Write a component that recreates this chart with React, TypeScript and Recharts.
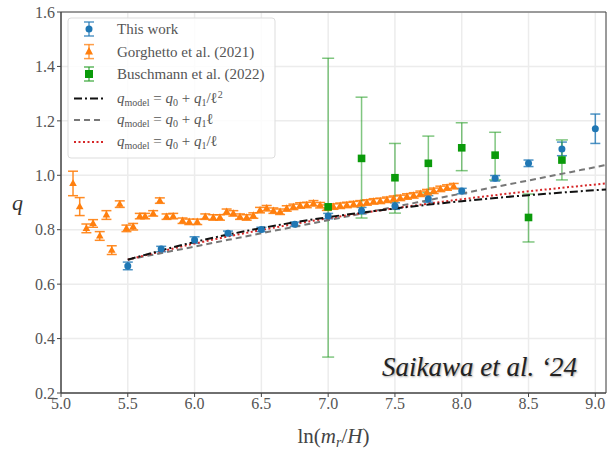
import React from 'react';
import {
  ComposedChart, Scatter, Line, XAxis, YAxis, CartesianGrid, ErrorBar, ReferenceArea,
} from 'recharts';

// This work (blue)
const thisX = [5.5, 5.75, 6.0, 6.25, 6.5, 6.75, 7.0, 7.25, 7.5, 7.75, 8.0, 8.25, 8.5, 8.75, 9.0];
const thisQ = [0.667, 0.729, 0.762, 0.787, 0.801, 0.82, 0.85, 0.87, 0.887, 0.913, 0.942, 0.989, 1.044, 1.097, 1.171];
const thisErr = [0.014, 0.01, 0.012, 0.008, 0.008, 0.008, 0.01, 0.012, 0.012, 0.012, 0.01, 0.01, 0.012, 0.025, 0.054];

// Gorghetto et al. (2021) (orange)
const gorX = [
  5.09, 5.14, 5.19, 5.24, 5.29, 5.34, 5.38, 5.44, 5.49, 5.54, 5.59, 5.63, 5.69, 5.74, 5.79, 5.84,
  5.91, 5.96, 6.02, 6.08, 6.14, 6.19, 6.24, 6.29, 6.34, 6.39, 6.44, 6.49, 6.54, 6.59, 6.64, 6.69,
  6.74, 6.79, 6.84, 6.89, 6.94, 6.99, 7.04, 7.09, 7.14, 7.19, 7.24, 7.29, 7.34, 7.39, 7.44, 7.49,
  7.54, 7.59, 7.64, 7.69, 7.74, 7.79, 7.84, 7.89, 7.94,
];
const gorQ = [
  0.97, 0.885, 0.805, 0.823, 0.777, 0.854, 0.725, 0.894, 0.805, 0.811, 0.85, 0.85, 0.86, 0.907, 0.848, 0.85,
  0.833, 0.829, 0.829, 0.848, 0.845, 0.845, 0.866, 0.86, 0.848, 0.845, 0.852, 0.872, 0.879, 0.87, 0.866, 0.878,
  0.884, 0.889, 0.891, 0.897, 0.89, 0.881, 0.885, 0.888, 0.891, 0.894, 0.897, 0.9, 0.904, 0.906, 0.91, 0.914,
  0.917, 0.922, 0.926, 0.932, 0.938, 0.943, 0.95, 0.955, 0.96,
];
const gorErr = [
  0.045, 0.033, 0.016, 0.014, 0.016, 0.016, 0.016, 0.012, 0.012, 0.012, 0.01, 0.01, 0.01, 0.01, 0.01, 0.01,
  0.01, 0.01, 0.01, 0.01, 0.01, 0.01, 0.01, 0.01, 0.01, 0.01, 0.01, 0.01, 0.01, 0.01, 0.01, 0.01,
  0.01, 0.01, 0.01, 0.01, 0.01, 0.01, 0.01, 0.01, 0.01, 0.01, 0.01, 0.01, 0.01, 0.01, 0.01, 0.01,
  0.01, 0.01, 0.01, 0.01, 0.01, 0.01, 0.01, 0.01, 0.01,
];

// Buschmann et al. (2022) (green), errors as [down, up]
const busX = [7.0, 7.25, 7.5, 7.75, 8.0, 8.25, 8.5, 8.75];
const busQ = [0.884, 1.062, 0.991, 1.044, 1.101, 1.074, 0.845, 1.056];
const busLo = [0.552, 0.219, 0.13, 0.108, 0.084, 0.091, 0.09, 0.073];
const busHi = [0.546, 0.225, 0.126, 0.1, 0.092, 0.084, 0.086, 0.074];

// model curves
const modelX = [5.5, 6.0, 6.5, 7.0, 7.5, 8.0, 8.5, 9.08];
const modelInvSq = [0.69, 0.755, 0.806, 0.846, 0.878, 0.905, 0.927, 0.948];
const modelLin = [0.69, 0.738, 0.787, 0.835, 0.884, 0.933, 0.981, 1.038];
const modelInv = [0.69, 0.749, 0.799, 0.842, 0.879, 0.912, 0.941, 0.97];

const xTicks = [5.0, 5.5, 6.0, 6.5, 7.0, 7.5, 8.0, 8.5, 9.0];
const yTicks = [0.2, 0.4, 0.6, 0.8, 1.0, 1.2, 1.4, 1.6];

const thisData = thisX.map((x, i) => ({ x, y: thisQ[i], err: thisErr[i] }));
const gorData = gorX.map((x, i) => ({ x, y: gorQ[i], err: gorErr[i] }));
const busData = busX.map((x, i) => ({ x, y: busQ[i], err: [busLo[i], busHi[i]] }));
const invSqData = modelX.map((x, i) => ({ x, y: modelInvSq[i] }));
const linData = modelX.map((x, i) => ({ x, y: modelLin[i] }));
const invData = modelX.map((x, i) => ({ x, y: modelInv[i] }));

const SERIF = 'Liberation Serif';
const BLUE = '#1f77b4';
const ORANGE = '#ff7f0e';
const GREEN = '#2ca02c';
const DKGREEN = '#0a9a0a';

const dotShape = (p: any) => <circle cx={p.cx} cy={p.cy} r={3.5} fill={BLUE} />;
const triShape = (p: any) => (
  <path d={`M${p.cx},${p.cy - 4.2} L${p.cx + 3.8},${p.cy + 2.6} L${p.cx - 3.8},${p.cy + 2.6} Z`} fill={ORANGE} />
);
const sqShape = (p: any) => <rect x={p.cx - 3.8} y={p.cy - 3.8} width={7.6} height={7.6} fill={DKGREEN} />;

const XLabel = (props: any) => {
  const vb = props.viewBox || {};
  const cx = vb.x + vb.width / 2;
  return (
    <text x={cx} y={443} textAnchor="middle" style={{ fontFamily: SERIF }} fontSize={21} fill="#444">
      <tspan>ln(</tspan>
      <tspan fontStyle="italic">m</tspan>
      <tspan fontStyle="italic" fontSize={14} dy={4}>r</tspan>
      <tspan dy={-4}>/</tspan>
      <tspan fontStyle="italic">H</tspan>
      <tspan>)</tspan>
    </text>
  );
};

const MathLabel = ({ y, tail }: { y: number; tail: 'sq' | 'lin' | 'inv' }) => (
  <text x={50} y={y + 4} style={{ fontFamily: SERIF }} fontSize={15} fill="#555">
    <tspan fontStyle="italic">q</tspan>
    <tspan fontSize={10} dy={3}>model</tspan>
    <tspan dy={-3}> = </tspan>
    <tspan fontStyle="italic">q</tspan>
    <tspan fontSize={10} dy={3}>0</tspan>
    <tspan dy={-3}> + </tspan>
    <tspan fontStyle="italic">q</tspan>
    <tspan fontSize={10} dy={3}>1</tspan>
    <tspan dy={-3}>{tail === 'lin' ? 'ℓ' : '/ℓ'}</tspan>
    {tail === 'sq' ? <tspan fontSize={10} dy={-5}>2</tspan> : null}
  </text>
);

const LegendBox = () => {
  const rows = [12, 34.6, 57, 81.5, 103, 125];
  const bar = (y: number, color: string) => (
    <g stroke={color} strokeWidth={1.5} strokeOpacity={0.75}>
      <line x1={22} x2={22} y1={y - 7} y2={y + 7} />
      <line x1={17} x2={27} y1={y - 7} y2={y - 7} />
      <line x1={17} x2={27} y1={y + 7} y2={y + 7} />
    </g>
  );
  return (
    <svg width={210} height={142} style={{ position: 'absolute', left: 67, top: 17 }}>
      <rect x={1} y={1} width={207} height={140} rx={3} fill="rgba(255,255,255,0.85)" stroke="#ddd" />
      {bar(rows[0], BLUE)}
      <circle cx={22} cy={rows[0]} r={3.5} fill={BLUE} />
      {bar(rows[1], ORANGE)}
      <path d={`M22,${rows[1] - 4.5} L26,${rows[1] + 3} L18,${rows[1] + 3} Z`} fill={ORANGE} />
      {bar(rows[2], GREEN)}
      <rect x={18} y={rows[2] - 4} width={8} height={8} fill={DKGREEN} />
      <line x1={7} x2={37} y1={rows[3]} y2={rows[3]} stroke="#111" strokeWidth={2} strokeDasharray="8 3 2 3" />
      <line x1={7} x2={37} y1={rows[4]} y2={rows[4]} stroke="#777" strokeWidth={2} strokeDasharray="6 4" />
      <line x1={7} x2={37} y1={rows[5]} y2={rows[5]} stroke="#d62728" strokeWidth={2} strokeDasharray="2 2.5" />
      <g style={{ fontFamily: SERIF }} fontSize={15} fill="#555">
        <text x={50} y={rows[0] + 5}>This work</text>
        <text x={50} y={rows[1] + 5}>Gorghetto et al. (2021)</text>
        <text x={50} y={rows[2] + 5}>Buschmann et al. (2022)</text>
      </g>
      <MathLabel y={rows[3]} tail="sq" />
      <MathLabel y={rows[4]} tail="lin" />
      <MathLabel y={rows[5]} tail="inv" />
    </svg>
  );
};

export default function App() {
  const tickStyle = { fontSize: 16, fill: '#555', style: { fontFamily: SERIF } };
  return (
    <div style={{ position: 'absolute', left: 0, top: 0, width: 610, height: 452, background: '#fff' }}>
      <ComposedChart width={610} height={452} margin={{ top: 12, right: 4, left: 11, bottom: 14 }}>
        <CartesianGrid stroke="#ececec" strokeWidth={1.5} />
        <XAxis
          type="number"
          dataKey="x"
          domain={[5.0, 9.08]}
          ticks={xTicks}
          allowDataOverflow
          tickFormatter={(v: number) => v.toFixed(1)}
          tick={tickStyle}
          tickSize={4}
          tickMargin={1}
          stroke="#444"
          height={45}
          label={<XLabel />}
        />
        <YAxis
          type="number"
          dataKey="y"
          domain={[0.2, 1.6]}
          ticks={yTicks}
          allowDataOverflow
          tickFormatter={(v: number) => v.toFixed(1)}
          tick={tickStyle}
          tickSize={4}
          tickMargin={2}
          stroke="#444"
          width={50}
          label={{ value: 'q', position: 'insideLeft', offset: 0, dx: 1, style: { fontFamily: SERIF, fontSize: 22, fontStyle: 'italic', fill: '#333' } }}
        />
        <ReferenceArea x1={5.0} x2={9.08} y1={0.2} y2={1.6} fill="none" stroke="#444" strokeWidth={1} />
        <Scatter data={thisData} fill={BLUE} shape={dotShape} isAnimationActive={false}>
          <ErrorBar dataKey="err" direction="y" width={5} stroke={BLUE} strokeWidth={1.5} strokeOpacity={0.8} />
        </Scatter>
        <Scatter data={gorData} fill={ORANGE} shape={triShape} isAnimationActive={false}>
          <ErrorBar dataKey="err" direction="y" width={5} stroke={ORANGE} strokeWidth={1.5} strokeOpacity={0.9} />
        </Scatter>
        <Scatter data={busData} fill={DKGREEN} shape={sqShape} isAnimationActive={false}>
          <ErrorBar dataKey="err" direction="y" width={6} stroke={GREEN} strokeWidth={1.5} strokeOpacity={0.6} />
        </Scatter>
        <Line data={linData} dataKey="y" type="monotone" stroke="#777" strokeWidth={2} strokeDasharray="6 4" dot={false} isAnimationActive={false} />
        <Line data={invData} dataKey="y" type="monotone" stroke="#d62728" strokeWidth={2} strokeDasharray="2 2.5" dot={false} isAnimationActive={false} />
        <Line data={invSqData} dataKey="y" type="monotone" stroke="#111" strokeWidth={2} strokeDasharray="8 3 2 3" dot={false} isAnimationActive={false} />
      </ComposedChart>
      <LegendBox />
      <div
        style={{
          position: 'absolute', left: 382, top: 352, fontFamily: SERIF, fontSize: 27,
          fontStyle: 'italic', color: '#222', textShadow: '1px 1px 2px rgba(0,0,0,0.35)', whiteSpace: 'nowrap',
        }}
      >
        Saikawa et al. ‘24
      </div>
    </div>
  );
}
